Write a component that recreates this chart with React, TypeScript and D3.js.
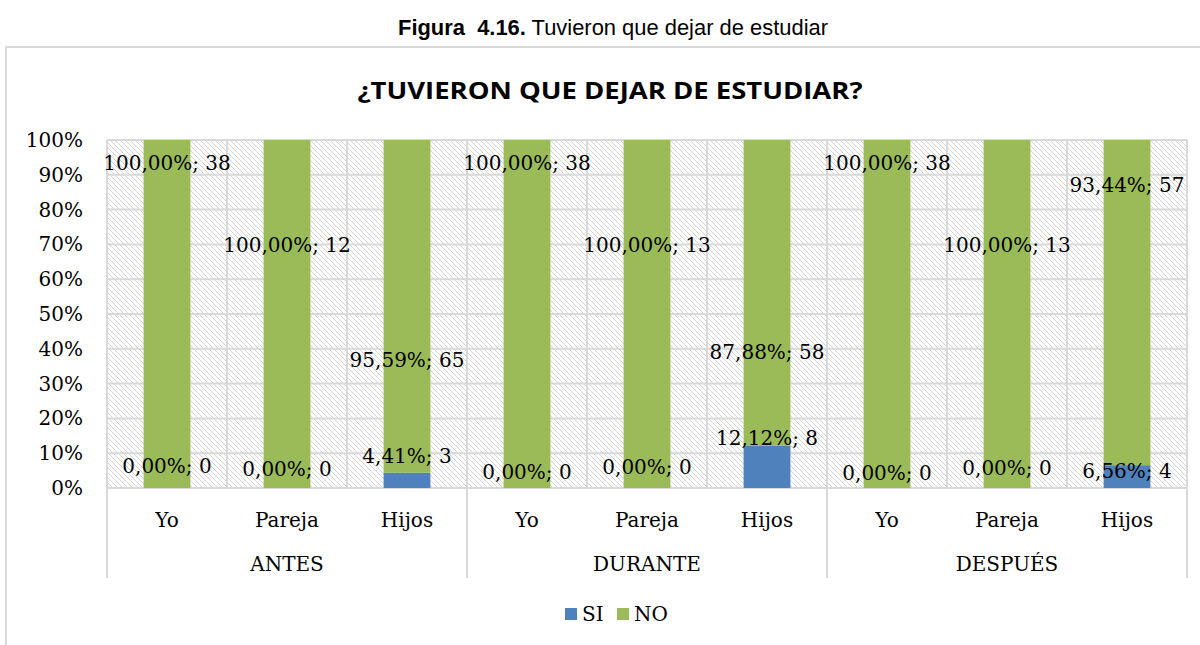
import React from "react";
import * as d3 from "d3";

const groups = ["ANTES", "DURANTE", "DESPUÉS"];
const categories = ["Yo", "Pareja", "Hijos"];
const seriesNames = ["SI", "NO"];
// percentages per group x category
const siPct = [0, 0, 4.41, 0, 0, 12.12, 0, 0, 6.56];
const noPct = [100, 100, 95.59, 100, 100, 87.88, 100, 100, 93.44];
const siCount = [0, 0, 3, 0, 0, 8, 0, 0, 4];
const noCount = [38, 12, 65, 38, 13, 58, 38, 13, 57];
const yTicks = [0, 10, 20, 30, 40, 50, 60, 70, 80, 90, 100];
// where the (manually moved) data labels sit, in percent units of the value axis
const noLabelAt = [93.4, 69.8, 36.8, 93.4, 69.8, 39, 93.4, 69.8, 87];
const siLabelAt = [6.3, 5.5, 9.2, 4.6, 6, 14.4, 4.3, 5.7, 4.9];

const COLORS: Record<string, string> = { SI: "#4F81BD", NO: "#9BBB59" };
const GRID = "#d9d9d9";
const SERIF = "'DejaVu Serif', serif";

const fmt = (v: number) => v.toFixed(2).replace(".", ",") + "%";

export default function App() {
  const W = 1200, H = 645;
  const left = 107, right = 1187, top = 140, bottom = 488;
  const keys = groups.flatMap((g) => categories.map((c) => g + "|" + c));
  const xCell = d3.scaleBand<string>().domain(keys).range([left, right]).padding(0);
  const xBar = d3.scaleBand<string>().domain(keys).range([left, right]).paddingInner(0.61).paddingOuter(0.305);
  const xGroup = d3.scaleBand<string>().domain(groups).range([left, right]).padding(0);
  const y = d3.scaleLinear().domain([0, 100]).range([bottom, top]);

  const rows = keys.map((k, i) => ({ key: k, SI: siPct[i], NO: noPct[i] }));
  const stack = d3.stack<any>().keys(seriesNames)(rows);

  return (
    <div style={{ position: "absolute", left: 0, top: 0, background: "#fff" }}>
      <svg width={W} height={H} style={{ display: "block" }}>
        <defs>
          <pattern id="hatch" width="5" height="5" patternUnits="userSpaceOnUse">
            <rect width="5" height="5" fill="#fff" />
            <path d="M-1,-1 L6,6 M-1,4 L1,6 M4,-1 L6,1" stroke="#d4d4d4" strokeWidth="1" />
          </pattern>
        </defs>
        <rect x={0} y={0} width={W} height={H} fill="#fff" />
        <text x={613} y={35} textAnchor="middle" fontFamily="'Liberation Sans Narrow', 'Arial Narrow', 'Liberation Sans', sans-serif" fontSize={22} fill="#000" textLength={430} lengthAdjust="spacingAndGlyphs">
          <tspan fontWeight="bold">{"Figura\u00a0 4.16."}</tspan>
          <tspan>{" Tuvieron que dejar de estudiar"}</tspan>
        </text>
        {/* chart frame */}
        <rect x={6} y={47} width={1210} height={620} fill="#fff" stroke={GRID} strokeWidth={2} />
        <text x={610} y={99} textAnchor="middle" fontFamily="'Open Sans', sans-serif" fontWeight="bold" fontSize={24} fill="#000" textLength={505} lengthAdjust="spacingAndGlyphs">
          ¿TUVIERON QUE DEJAR DE ESTUDIAR?
        </text>
        {/* plot area hatch */}
        <rect x={left} y={top} width={right - left} height={bottom - top} fill="url(#hatch)" />
        {/* gridlines */}
        {yTicks.map((t) => (
          <line key={"h" + t} x1={left} x2={right} y1={y(t)} y2={y(t)} stroke={GRID} strokeWidth={2} />
        ))}
        {keys.map((k) => (
          <line key={"v" + k} x1={xCell(k)!} x2={xCell(k)!} y1={top} y2={bottom} stroke={GRID} strokeWidth={2} />
        ))}
        <line x1={right} x2={right} y1={top} y2={bottom} stroke={GRID} strokeWidth={2} />
        {/* bars */}
        {stack.map((s) =>
          s.map((d: any, i: number) => (
            <rect
              key={s.key + i}
              x={xBar(keys[i])!}
              width={xBar.bandwidth()}
              y={y(d[1])}
              height={Math.max(0, y(d[0]) - y(d[1]))}
              fill={COLORS[s.key]}
            />
          ))
        )}
        {/* y axis labels */}
        {yTicks.map((t) => (
          <text key={"yt" + t} x={83} y={y(t)} dy="0.35em" textAnchor="end" fontFamily={SERIF} fontSize={20} fill="#000">
            {t}%
          </text>
        ))}
        {/* category axis */}
        {groups.map((g) => (
          <line key={"gs" + g} x1={xGroup(g)!} x2={xGroup(g)!} y1={bottom} y2={578} stroke={GRID} strokeWidth={2} />
        ))}
        <line x1={right} x2={right} y1={bottom} y2={578} stroke={GRID} strokeWidth={2} />
        {keys.map((k) => (
          <text key={"cl" + k} x={xCell(k)! + xCell.bandwidth() / 2} y={520} dy="0.35em" textAnchor="middle" fontFamily={SERIF} fontSize={20} fill="#000">
            {k.split("|")[1]}
          </text>
        ))}
        {groups.map((g) => (
          <text key={"gl" + g} x={xGroup(g)! + xGroup.bandwidth() / 2} y={564} dy="0.35em" textAnchor="middle" fontFamily={SERIF} fontSize={20} fill="#000">
            {g}
          </text>
        ))}
        {/* data labels */}
        {keys.map((k, i) => (
          <g key={"dl" + k}>
            <text x={xCell(k)! + xCell.bandwidth() / 2} y={y(noLabelAt[i])} dy="0.35em" textAnchor="middle" fontFamily={SERIF} fontSize={20} fill="#000">
              {fmt(noPct[i]) + "; " + noCount[i]}
            </text>
            <text x={xCell(k)! + xCell.bandwidth() / 2} y={y(siLabelAt[i])} dy="0.35em" textAnchor="middle" fontFamily={SERIF} fontSize={20} fill="#000">
              {fmt(siPct[i]) + "; " + siCount[i]}
            </text>
          </g>
        ))}
        {/* legend */}
        {seriesNames.map((s, i) => {
          const lx = 565 + i * 52;
          return (
            <g key={"lg" + s}>
              <rect x={lx} y={608} width={12} height={12} fill={COLORS[s]} />
              <text x={lx + 17} y={614} dy="0.35em" fontFamily={SERIF} fontSize={20} fill="#000">
                {s}
              </text>
            </g>
          );
        })}
      </svg>
    </div>
  );
}
